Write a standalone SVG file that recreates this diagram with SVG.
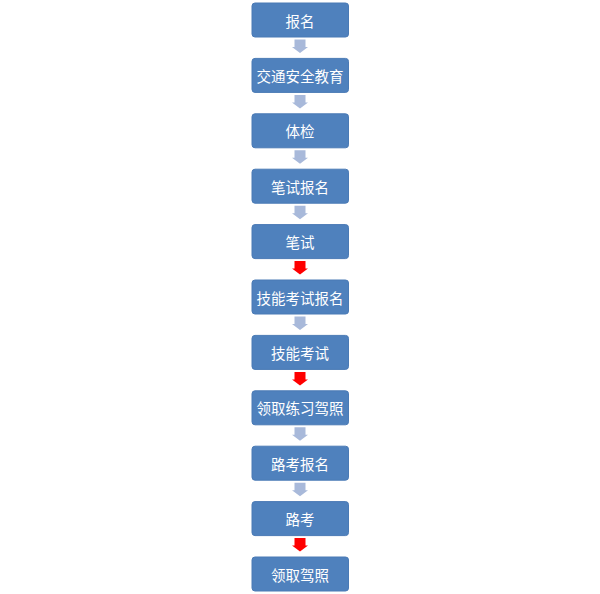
<svg xmlns="http://www.w3.org/2000/svg" width="600" height="594" viewBox="0 0 600 594">
<style>
.box{fill:#4F81BD;stroke:#4A7AB5;stroke-width:1}
.t{fill:#ffffff;font-family:"Noto Sans CJK SC","Noto Sans",sans-serif;font-size:14.5px;text-anchor:middle;dominant-baseline:central}
.ga{fill:#A8B9DA}
.ra{fill:#FF0000}
</style>
<defs>
<path id="arr" d="M-5.5,0 H5.5 V7.5 H8 L0,13.5 L-8,7.5 H-5.5 Z"/>
</defs>
<rect width="600" height="594" fill="#ffffff"/>
<g id="connectors">
<use href="#arr" class="ga" x="300" y="39.5"/>
<use href="#arr" class="ga" x="300" y="94.9"/>
<use href="#arr" class="ga" x="300" y="150.3"/>
<use href="#arr" class="ga" x="300" y="205.7"/>
<use href="#arr" class="ra" x="300" y="261.1"/>
<use href="#arr" class="ga" x="300" y="316.5"/>
<use href="#arr" class="ra" x="300" y="371.9"/>
<use href="#arr" class="ga" x="300" y="427.3"/>
<use href="#arr" class="ga" x="300" y="482.7"/>
<use href="#arr" class="ra" x="300" y="538.1"/>
</g>
<g id="n1"><rect class="box" x="252" y="3" width="96.5" height="34" rx="3"/><text class="t" x="300" y="20">报名</text></g>
<g id="n2"><rect class="box" x="252" y="58.4" width="96.5" height="34" rx="3"/><text class="t" x="300" y="75.4">交通安全教育</text></g>
<g id="n3"><rect class="box" x="252" y="113.8" width="96.5" height="34" rx="3"/><text class="t" x="300" y="130.8">体检</text></g>
<g id="n4"><rect class="box" x="252" y="169.2" width="96.5" height="34" rx="3"/><text class="t" x="300" y="186.2">笔试报名</text></g>
<g id="n5"><rect class="box" x="252" y="224.6" width="96.5" height="34" rx="3"/><text class="t" x="300" y="241.6">笔试</text></g>
<g id="n6"><rect class="box" x="252" y="280" width="96.5" height="34" rx="3"/><text class="t" x="300" y="297">技能考试报名</text></g>
<g id="n7"><rect class="box" x="252" y="335.4" width="96.5" height="34" rx="3"/><text class="t" x="300" y="352.4">技能考试</text></g>
<g id="n8"><rect class="box" x="252" y="390.8" width="96.5" height="34" rx="3"/><text class="t" x="300" y="407.8">领取练习驾照</text></g>
<g id="n9"><rect class="box" x="252" y="446.2" width="96.5" height="34" rx="3"/><text class="t" x="300" y="463.2">路考报名</text></g>
<g id="n10"><rect class="box" x="252" y="501.6" width="96.5" height="34" rx="3"/><text class="t" x="300" y="518.6">路考</text></g>
<g id="n11"><rect class="box" x="252" y="557" width="96.5" height="34" rx="3"/><text class="t" x="300" y="574">领取驾照</text></g>
</svg>
